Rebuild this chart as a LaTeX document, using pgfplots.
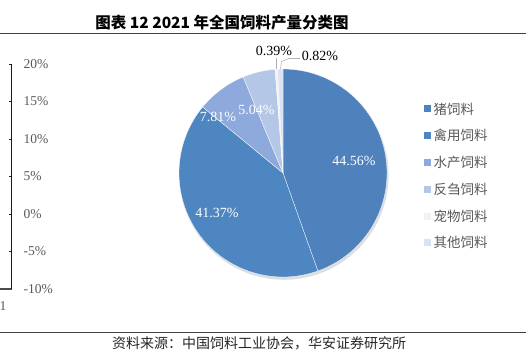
\documentclass[border=0pt]{standalone}
\usepackage{pgfplots}
\pgfplotsset{compat=1.18}
\usepackage{pgfplotstable}
\usepackage{fontspec}
\setmainfont{Liberation Serif}
\newfontfamily\cjk{Noto Sans CJK SC}
\definecolor{c0}{HTML}{4F81BD}
\definecolor{c1}{HTML}{4D86C1}
\definecolor{c2}{HTML}{8EA9DB}
\definecolor{c3}{HTML}{B4C7E7}
\definecolor{c4}{HTML}{F2F2F2}
\definecolor{c5}{HTML}{DAE3F3}
\definecolor{txt}{HTML}{595959}

\pgfplotstableread{
idx share
0 44.56
1 41.37
2 7.81
3 5.04
4 0.39
5 0.82
}\piedata

\begin{document}
\begin{tikzpicture}[x=1pt,y=1pt]
\useasboundingbox (0,0) rectangle (526,356);
\gdef\cur{90}
\pgfplotsforeachungrouped \i in {0,...,5}{%
  \pgfplotstablegetelem{\i}{share}\of\piedata
  \pgfmathsetmacro\nxt{\cur-3.6*\pgfplotsretval*100/99.99}%
  \expandafter\xdef\csname sa\i\endcsname{\cur}%
  \expandafter\xdef\csname ea\i\endcsname{\nxt}%
  \xdef\cur{\nxt}%
}

\draw[line width=0.8pt, black!75] (0,323) -- (526,323);
\node[font=\cjk\bfseries\fontsize{15.5}{15.5}\selectfont] at (222,333) {图表 12 2021 年全国饲料产量分类图};
\draw[line width=0.8pt, black!75] (0,24) -- (526,24);
\node[font=\cjk\fontsize{14}{14}\selectfont, text=black!85] at (259,13) {资料来源：中国饲料工业协会，华安证券研究所};

\begin{axis}[at={(0pt,67pt)}, anchor=south west, scale only axis,
  width=12pt, height=225pt,
  xmin=0, xmax=4, ymin=-10, ymax=20,
  ytick={-10,-5,0,5,10,15,20},
  yticklabel={\pgfmathprintnumber{\tick}\%},
  xtick={1}, xticklabels={1},
  axis x line*=bottom, axis y line*=right,
  tick align=inside, major tick length=3pt,
  x tick style={draw=none},
  y tick style={black!90, line width=0.7pt},
  tick label style={font=\fontsize{13.5}{14}\selectfont, text=txt},
  yticklabel style={xshift=8pt},
  xticklabel style={yshift=-9pt},
  /pgf/number format/assume math mode=true,
  y axis line style={-, black!90, line width=1pt},
  x axis line style={-, black!70, line width=1.5pt},
]
\addplot[draw=none] coordinates {(1,0)};
\end{axis}

\begin{axis}[at={(179pt,79pt)}, anchor=south west, scale only axis,
  width=208pt, height=208pt,
  xmin=-1, xmax=1, ymin=-1, ymax=1, hide axis, clip=false]
\addplot[draw=none] coordinates {(0,0)};
\fill[black, opacity=0.13] (axis cs:0.01,-0.022) circle[radius=104.5pt];
\pgfplotsinvokeforeach{0,...,5}{
  \filldraw[fill=c#1, draw=white, line width=0.3pt]
    (axis cs:0,0) -- (axis cs:{cos(\csname sa#1\endcsname)},{sin(\csname sa#1\endcsname)})
    arc[start angle=\csname sa#1\endcsname, end angle=\csname ea#1\endcsname, radius=104pt] -- cycle;
}
\end{axis}

\begin{scope}[every node/.style={font=\fontsize{14}{14}\selectfont, inner sep=0pt}]
\node[text=white] at (354,195) {44.56\%};
\node[text=white] at (217,143) {41.37\%};
\node[text=white] at (218,239) {7.81\%};
\node[text=white] at (256.5,246) {5.04\%};
\node[text=black] at (274,305) {0.39\%};
\node[text=black] at (320,300) {0.82\%};
\end{scope}
\draw[black!30, line width=0.6pt] (276.5,287) -- (276.5,298);
\draw[black!30, line width=0.6pt] (280.5,287) -- (281.5,294.5) -- (289,297.5) -- (300,297.5);

\foreach \c/\y/\t in {c0/247/猪饲料, c1/220.3/禽用饲料, c2/193.3/水产饲料, c3/166.7/反刍饲料, c4/140/宠物饲料, c5/113.3/其他饲料}{
  \fill[\c] (423.5,\y-3.5) rectangle ++(7,7);
  \node[anchor=west, font=\cjk\fontsize{13.5}{14}\selectfont, text=txt, inner sep=0pt] at (433.5,\y) {\t};
}
\end{tikzpicture}
\end{document}
